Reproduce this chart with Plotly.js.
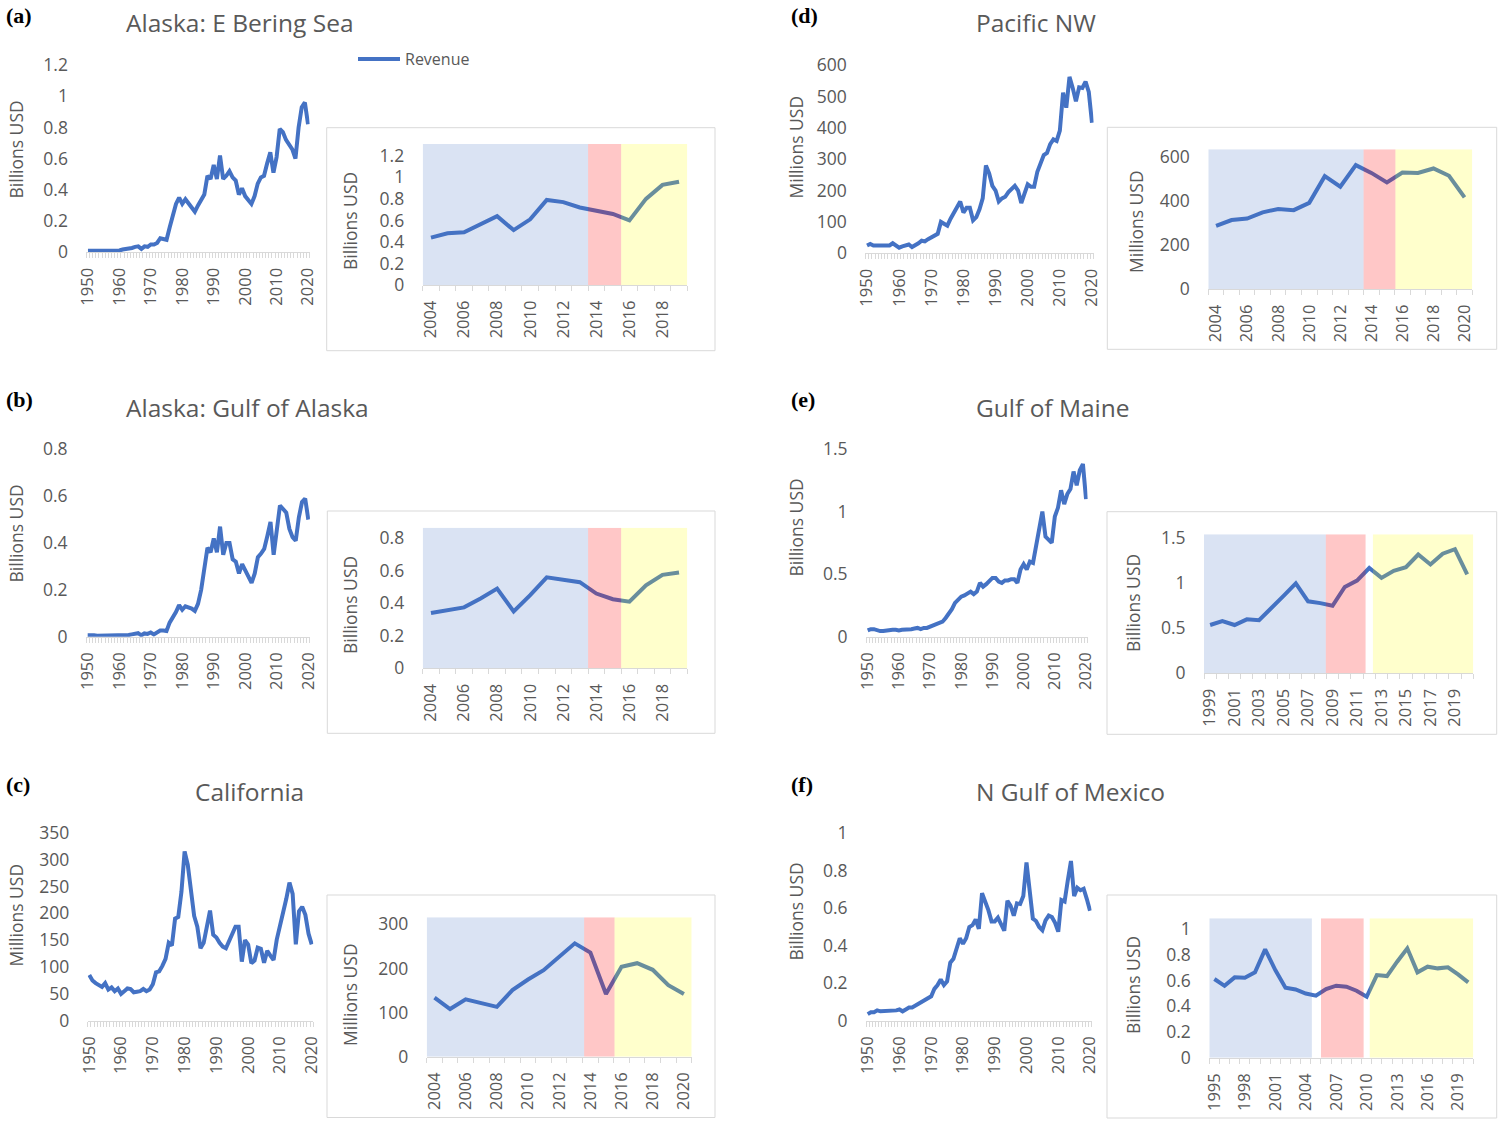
<!DOCTYPE html>
<html><head><meta charset="utf-8">
<script src="https://cdn.plot.ly/plotly-3.0.1.min.js"></script>
<style>html,body{margin:0;padding:0;background:#fff}#chart{width:1500px;height:1122px}</style>
</head><body><div id="chart"></div>
<script>
// ---------------- DATA ----------------
function yearSpan(a, b) { const r = []; for (let y = a; y <= b; y++) r.push(y); return r; }
const yearsMain = yearSpan(1950, 2020);

const ebsValues = [ // Alaska: E Bering Sea, billions USD
  0.01,0.01,0.01,0.008,0.008,0.01,0.008,0.008,0.01,0.01,
  0.012,0.018,0.022,0.02,0.028,0.035,0.038,0.022,0.038,0.035,
  0.05,0.05,0.06,0.09,0.085,0.08,0.16,0.24,0.31,0.35,
  0.31,0.34,0.31,0.29,0.26,0.3,0.34,0.37,0.49,0.47,
  0.56,0.47,0.62,0.47,0.49,0.52,0.48,0.46,0.37,0.41,
  0.36,0.33,0.31,0.36,0.44,0.48,0.49,0.57,0.64,0.51,
  0.61,0.79,0.77,0.72,0.69,0.66,0.6,0.8,0.93,0.96,0.82];
const goaValues = [ // Alaska: Gulf of Alaska, billions USD
  0.006,0.008,0.006,0.004,0.004,0.006,0.004,0.004,0.005,0.004,
  0.006,0.008,0.008,0.007,0.01,0.012,0.015,0.006,0.014,0.012,
  0.018,0.01,0.016,0.026,0.026,0.024,0.06,0.08,0.105,0.135,
  0.115,0.13,0.125,0.12,0.11,0.14,0.2,0.29,0.38,0.36,
  0.42,0.36,0.47,0.35,0.4,0.4,0.33,0.32,0.27,0.31,
  0.28,0.25,0.23,0.27,0.34,0.355,0.375,0.43,0.49,0.35,
  0.45,0.56,0.545,0.53,0.46,0.425,0.41,0.51,0.575,0.59,0.5];
const calValues = [ // California, millions USD
  85,75,70,67,63,70,58,62,55,60,
  50,55,60,59,53,54,55,59,55,58,
  68,90,92,102,115,145,140,190,193,240,
  315,290,240,195,175,135,145,175,205,160,
  155,145,138,135,150,162,175,175,110,150,
  142,107,112,136,134,108,130,121,113,151,
  175,196,227,257,236,142,204,212,197,162,142];
const pnwValues = [ // Pacific NW, millions USD
  25,30,25,25,28,25,25,25,32,25,
  18,22,25,28,20,25,32,40,38,45,
  50,55,62,100,95,88,110,130,150,165,
  130,145,145,105,115,140,175,280,255,215,
  200,165,175,180,195,205,215,200,160,190,
  220,212,212,260,286,313,320,348,363,358,
  391,512,464,562,527,484,529,527,547,514,416];
const gomaineValues = [ // Gulf of Maine, billions USD
  0.05,0.06,0.06,0.05,0.045,0.045,0.05,0.05,0.055,0.055,
  0.05,0.055,0.055,0.06,0.06,0.065,0.07,0.06,0.07,0.07,
  0.08,0.09,0.1,0.11,0.12,0.15,0.18,0.22,0.27,0.3,
  0.32,0.33,0.35,0.36,0.34,0.36,0.43,0.4,0.42,0.44,
  0.47,0.47,0.44,0.43,0.45,0.45,0.46,0.46,0.43,0.537,
  0.58,0.537,0.6,0.59,0.72,0.86,1.0,0.8,0.78,0.75,
  0.96,1.03,1.17,1.06,1.14,1.18,1.32,1.21,1.33,1.38,1.1];
const gomexValues = [ // N Gulf of Mexico, billions USD
  0.035,0.045,0.045,0.055,0.05,0.05,0.055,0.055,0.055,0.055,
  0.06,0.05,0.06,0.07,0.07,0.08,0.09,0.1,0.11,0.12,
  0.13,0.17,0.19,0.22,0.19,0.21,0.31,0.33,0.38,0.44,
  0.41,0.44,0.5,0.51,0.54,0.49,0.68,0.64,0.59,0.53,
  0.53,0.55,0.52,0.48,0.64,0.613,0.56,0.626,0.623,0.665,
  0.844,0.683,0.545,0.532,0.5,0.483,0.535,0.561,0.553,0.522,
  0.475,0.644,0.636,0.748,0.852,0.665,0.709,0.696,0.704,0.649,0.587];

// inset year spans
const insetYearsA = yearSpan(2004, 2019);
const insetYearsB = yearSpan(2004, 2019);
const insetYearsC = yearSpan(2004, 2020);
const insetYearsD = yearSpan(2004, 2020);
const insetYearsE = yearSpan(1999, 2020);
const insetYearsF = yearSpan(1995, 2020);

// tick labels
const mainXLabels = [1950,1960,1970,1980,1990,2000,2010,2020];
const insetXLabelsA = [2004,2006,2008,2010,2012,2014,2016,2018];
const insetXLabelsC = [2004,2006,2008,2010,2012,2014,2016,2018,2020];
const insetXLabelsE = [1999,2001,2003,2005,2007,2009,2011,2013,2015,2017,2019];
const insetXLabelsF = [1995,1998,2001,2004,2007,2010,2013,2016,2019];
const yTicksA = [0,0.2,0.4,0.6,0.8,1,1.2];
const yTicksB = [0,0.2,0.4,0.6,0.8];
const yTicksC = [0,50,100,150,200,250,300,350];
const yTicksD = [0,100,200,300,400,500,600];
const yTicksE = [0,0.5,1,1.5];
const yTicksF = [0,0.2,0.4,0.6,0.8,1];
const insetYTicksC = [0,100,200,300];
const insetYTicksD = [0,200,400,600];

// period bands (year boundaries) for insets
const bandsA = [[2003.5,2013.5,'blue'],[2013.5,2015.5,'pink'],[2015.5,2019.5,'yellow']];
const bandsB = [[2003.5,2013.5,'blue'],[2013.5,2015.5,'pink'],[2015.5,2019.5,'yellow']];
const bandsC = [[2003.5,2013.6,'blue'],[2013.6,2015.55,'pink'],[2015.55,2020.5,'yellow']];
const bandsD = [[2003.5,2013.5,'blue'],[2013.5,2015.55,'pink'],[2015.55,2020.5,'yellow']];
const bandsE = [[1998.5,2008.45,'blue'],[2008.45,2011.7,'pink'],[2012.3,2020.5,'yellow']];
const bandsF = [[1994.5,2004.6,'blue'],[2005.5,2009.7,'pink'],[2010.3,2020.5,'yellow']];

// ---------------- LAYOUT ----------------
const W = 1500, H = 1122;
const LINE = '#4472C4', TXT = '#595959', AX = '#D9D9D9';
const FONT = 'Open Sans, sans-serif';
const TICKX = 16.5, TICKY = 17.5, AXT = 17.5, TTL = 24.5;
const bandColor = {blue:'rgba(68,114,196,0.2)', pink:'rgba(255,0,0,0.22)', yellow:'rgba(255,255,0,0.2)'};

const panels = [
  {lab:'(a)', labPos:[4,15], title:'Alaska: E Bering Sea', titlePos:[124,22],
   vals:ebsValues, ytitle:'Billions USD', yticks:yTicksA, ymax:1.2,
   mainX:[86.4,309.6], mainY:[65,252.3], mainYT:[15.5,150],
   insetYears:insetYearsA, insetXL:insetXLabelsA, insetYT:yTicksA, insetYmax:1.31, bands:bandsA,
   insX:[422.7,687.3], insY:[144,285], insYTitle:[350,221], box:[326.7,127.7,715,350.7]},
  {lab:'(b)', labPos:[4,399], title:'Alaska: Gulf of Alaska', titlePos:[124,407],
   vals:goaValues, ytitle:'Billions USD', yticks:yTicksB, ymax:0.8,
   mainX:[86.1,309.9], mainY:[449.3,636.7], mainYT:[15.5,534],
   insetYears:insetYearsB, insetXL:insetXLabelsA, insetYT:yTicksB, insetYmax:0.865, bands:bandsB,
   insX:[422.7,687.3], insY:[527.7,668.3], insYTitle:[350,605], box:[327.3,511,715,733.3]},
  {lab:'(c)', labPos:[4,784], title:'California', titlePos:[193,791],
   vals:calValues, ytitle:'Millions USD', yticks:yTicksC, ymax:350,
   mainX:[87.7,313.3], mainY:[832.7,1020.7], mainYT:[15.5,915],
   insetYears:insetYearsC, insetXL:insetXLabelsC, insetYT:insetYTicksC, insetYmax:316, bands:bandsC,
   insX:[426.7,691.7], insY:[917.3,1056.7], insYTitle:[350,995], box:[327,895,715,1117.5]},
  {lab:'(d)', labPos:[789,15], title:'Pacific NW', titlePos:[974,22],
   vals:pnwValues, ytitle:'Millions USD', yticks:yTicksD, ymax:600,
   mainX:[865.4,1093.6], mainY:[65,253.3], mainYT:[795.5,147],
   insetYears:insetYearsD, insetXL:insetXLabelsC, insetYT:insetYTicksD, insetYmax:634, bands:bandsD,
   insX:[1208.3,1472.3], insY:[149.3,289], insYTitle:[1136,222], box:[1107.3,127.3,1496.7,349.3]},
  {lab:'(e)', labPos:[789,399], title:'Gulf of Maine', titlePos:[974,407],
   vals:gomaineValues, ytitle:'Billions USD', yticks:yTicksE, ymax:1.5,
   mainX:[866.1,1087.6], mainY:[449,636.7], mainYT:[795.5,528],
   insetYears:insetYearsE, insetXL:insetXLabelsE, insetYT:yTicksE, insetYmax:1.545, bands:bandsE,
   insX:[1204,1473.3], insY:[534.3,673.3], insYTitle:[1133,603], box:[1107,511.7,1496.7,734.3]},
  {lab:'(f)', labPos:[789,784], title:'N Gulf of Mexico', titlePos:[974,791],
   vals:gomexValues, ytitle:'Billions USD', yticks:yTicksF, ymax:1,
   mainX:[866.1,1091.6], mainY:[833.3,1020.7], mainYT:[795.5,912],
   insetYears:insetYearsF, insetXL:insetXLabelsF, insetYT:yTicksF, insetYmax:1.086, bands:bandsF,
   insX:[1209.3,1473.3], insY:[918.3,1057.7], insYTitle:[1133,985], box:[1107,895,1496.7,1118]}
];

const px = p => p / W, py = p => 1 - p / H;
const data = [], shapes = [], annotations = [];
const layout = {
  width: W, height: H, margin: {l:0, r:0, t:0, b:0},
  paper_bgcolor:'#fff', plot_bgcolor:'rgba(0,0,0,0)',
  font: {family: FONT, color: TXT},
  showlegend: true,
  legend: {x: px(353), y: py(59), xanchor:'left', yanchor:'middle', bgcolor:'rgba(0,0,0,0)',
           font:{size:16, color:TXT, family:FONT}, borderwidth:0, itemwidth:42}
};

function xAxis(domPx, years, labels, anchor) {
  const bounds = years.map(y => y - 0.5).concat([years[years.length-1] + 0.5]);
  return {domain:[px(domPx[0]), px(domPx[1])], range:[years[0]-0.5, years[years.length-1]+0.5],
    anchor: anchor, tickmode:'array', tickvals: labels, ticktext: labels.map(String),
    tickangle: -90, ticks:'outside', ticklen:8, tickcolor:'rgba(0,0,0,0)',
    showline:true, linecolor:AX, linewidth:1, showgrid:false, zeroline:false, fixedrange:true,
    tickfont:{size:TICKX, color:TXT, family:FONT},
    minor:{tickmode:'array', tickvals: bounds, ticks:'outside', ticklen:5, tickcolor:AX, tickwidth:1, showgrid:false}};
}
function yAxis(domPx, ymax, ticks, anchor, standoff) {
  return {domain:[py(domPx[1]), py(domPx[0])], range:[0, ymax], anchor: anchor,
    tickmode:'array', tickvals: ticks, ticks:'outside', ticklen: standoff, tickcolor:'rgba(0,0,0,0)',
    showline:false, showgrid:false, zeroline:false, fixedrange:true,
    tickfont:{size:TICKY, color:TXT, family:FONT}};
}

panels.forEach((p, i) => {
  const mi = 2*i + 1, ii = 2*i + 2;
  const mx = 'x' + (mi === 1 ? '' : mi), my = 'y' + (mi === 1 ? '' : mi);
  const ix = 'x' + ii, iy = 'y' + ii;
  data.push({type:'scatter', mode:'lines', x: yearsMain, y: p.vals, xaxis: mx, yaxis: my,
    name:'Revenue', showlegend: i === 0, line:{color:LINE, width:4}, hoverinfo:'skip'});
  const insVals = p.insetYears.map(y => p.vals[yearsMain.indexOf(y)]);
  data.push({type:'scatter', mode:'lines', x: p.insetYears, y: insVals, xaxis: ix, yaxis: iy,
    name:'Revenue', showlegend:false, line:{color:LINE, width:4}, hoverinfo:'skip'});

  layout['xaxis' + (mi === 1 ? '' : mi)] = xAxis(p.mainX, yearsMain, mainXLabels, my);
  layout['yaxis' + (mi === 1 ? '' : mi)] = yAxis(p.mainY, p.ymax, p.yticks, mx, 14);
  layout['xaxis' + ii] = xAxis(p.insX, p.insetYears, p.insetXL, iy);
  layout['yaxis' + ii] = yAxis(p.insY, p.insetYmax, p.insetYT, ix, 14);

  shapes.push({type:'rect', xref:'paper', yref:'paper', x0:px(p.box[0]), x1:px(p.box[2]),
    y0:py(p.box[3]), y1:py(p.box[1]), line:{color:AX, width:1}, fillcolor:'rgba(0,0,0,0)', layer:'below'});
  p.bands.forEach(b => shapes.push({type:'rect', xref: ix, yref: iy, x0:b[0], x1:b[1], y0:0, y1:p.insetYmax,
    line:{width:0}, fillcolor: bandColor[b[2]], layer:'above'}));

  annotations.push({xref:'paper', yref:'paper', x:px(p.labPos[0]), y:py(p.labPos[1]), xanchor:'left', yanchor:'middle',
    text:'<b>' + p.lab + '</b>', showarrow:false, font:{family:'Liberation Serif, serif', size:22, color:'#000'}});
  annotations.push({xref:'paper', yref:'paper', x:px(p.titlePos[0]), y:py(p.titlePos[1]), xanchor:'left', yanchor:'middle',
    text:p.title, showarrow:false, font:{family:FONT, size:TTL, color:TXT}});
  annotations.push({xref:'paper', yref:'paper', x:px(p.mainYT[0]), y:py(p.mainYT[1]), xanchor:'center', yanchor:'middle',
    text:p.ytitle, textangle:-90, showarrow:false, font:{family:FONT, size:AXT, color:TXT}});
  annotations.push({xref:'paper', yref:'paper', x:px(p.insYTitle[0]), y:py(p.insYTitle[1]), xanchor:'center', yanchor:'middle',
    text:p.ytitle, textangle:-90, showarrow:false, font:{family:FONT, size:AXT, color:TXT}});
});
layout.shapes = shapes;
layout.annotations = annotations;

Plotly.newPlot('chart', data, layout, {staticPlot:true, displayModeBar:false});
</script>
</body></html>
